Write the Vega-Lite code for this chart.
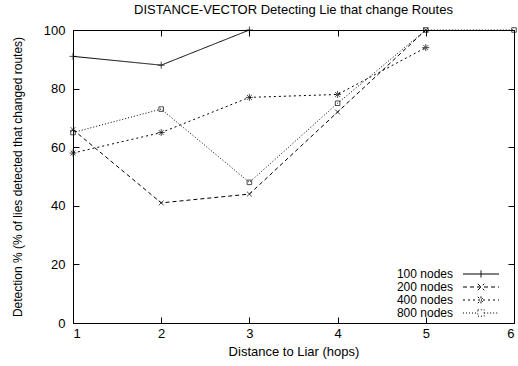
{
  "$schema": "https://vega.github.io/schema/vega-lite/v6.json",
  "width": 441,
  "height": 293,
  "autosize": "none",
  "padding": {"left": 73, "top": 30, "right": 4, "bottom": 43},
  "background": "white",
  "title": {"text": "DISTANCE-VECTOR Detecting Lie that change Routes", "font": "Liberation Sans", "fontSize": 13, "fontWeight": "normal", "color": "black", "offset": 7, "anchor": "middle"},
  "config": {
    "view": {"stroke": "black", "strokeWidth": 1},
    "font": "Liberation Sans",
    "axis": {"domain": false, "grid": false, "tickColor": "black", "tickSize": -6, "labelFont": "Liberation Sans", "labelFontSize": 13, "labelColor": "black", "titleFont": "Liberation Sans", "titleFontSize": 13, "titleFontWeight": "normal", "titleColor": "black"},
    "axisX": {"labelPadding": 10},
    "axisY": {"labelPadding": 14}
  },
  "data": {"values": [
    {"series": "100 nodes", "hops": 1, "pct": 91},
    {"series": "100 nodes", "hops": 2, "pct": 88},
    {"series": "100 nodes", "hops": 3, "pct": 100},
    {"series": "200 nodes", "hops": 1, "pct": 66},
    {"series": "200 nodes", "hops": 2, "pct": 41},
    {"series": "200 nodes", "hops": 3, "pct": 44},
    {"series": "200 nodes", "hops": 4, "pct": 72},
    {"series": "200 nodes", "hops": 5, "pct": 100},
    {"series": "400 nodes", "hops": 1, "pct": 58},
    {"series": "400 nodes", "hops": 2, "pct": 65},
    {"series": "400 nodes", "hops": 3, "pct": 77},
    {"series": "400 nodes", "hops": 4, "pct": 78},
    {"series": "400 nodes", "hops": 5, "pct": 94},
    {"series": "800 nodes", "hops": 1, "pct": 65},
    {"series": "800 nodes", "hops": 2, "pct": 73},
    {"series": "800 nodes", "hops": 3, "pct": 48},
    {"series": "800 nodes", "hops": 4, "pct": 75},
    {"series": "800 nodes", "hops": 5, "pct": 100},
    {"series": "800 nodes", "hops": 6, "pct": 100}
  ]},
  "resolve": {"axis": {"x": "independent", "y": "independent"}},
  "layer": [
    {
      "mark": {"type": "line", "color": "black", "strokeWidth": 1, "clip": false},
      "encoding": {
        "x": {"field": "hops", "type": "quantitative", "scale": {"domain": [1, 6], "nice": false, "zero": false}, "axis": {"title": "Distance to Liar (hops)", "values": [1,2,3,4,5,6], "format": "d", "titlePadding": 5}},
        "y": {"field": "pct", "type": "quantitative", "scale": {"domain": [0, 100], "nice": false}, "axis": {"title": "Detection % (% of lies detected that changed routes)", "titleFontSize": 12, "values": [0,20,40,60,80,100], "titlePadding": 19}},
        "strokeDash": {"field": "series", "type": "nominal", "scale": {"domain": ["100 nodes","200 nodes","400 nodes","800 nodes"], "range": [[1,0],[4,3],[2,3],[1,2]]},
          "legend": {"title": null, "orient": "none", "legendX": 402, "legendY": 238, "labelAlign": "right", "labelOffset": -34, "labelFontSize": 12, "labelFont": "Liberation Sans", "labelColor": "black", "symbolSize": 64, "symbolStrokeColor": "black", "symbolStrokeWidth": 1, "rowPadding": 1,
            "encode": {"symbols": {"update": {"shape": {"signal": "datum.value == '100 nodes' ? 'M-4.5,0H4.5M0,-0.9V0.9' : datum.value == '200 nodes' ? 'M-4.5,0H4.5M-0.8,-0.8L0.8,0.8M-0.8,0.8L0.8,-0.8' : datum.value == '400 nodes' ? 'M-4.5,0H4.5M0,-0.9V0.9M-0.8,-0.8L0.8,0.8M-0.8,0.8L0.8,-0.8' : 'M-4.5,0H-0.8M0.8,0H4.5M-0.8,-0.8H0.8V0.8H-0.8Z'"}, "fill": {"value": "transparent"}, "stroke": {"value": "black"}}}}}}
      }
    },
    {
      "transform": [{"filter": "datum.series == '100 nodes'"}],
      "mark": {"type": "point", "shape": "M-1,0H1M0,-1V1", "color": "black", "strokeWidth": 1, "filled": false, "size": 49, "clip": false},
      "encoding": {
        "x": {"field": "hops", "type": "quantitative", "axis": {"orient": "top", "labels": false, "title": null, "values": [1,2,3,4,5,6]}},
        "y": {"field": "pct", "type": "quantitative", "axis": {"orient": "right", "labels": false, "title": null, "values": [0,20,40,60,80,100]}}
      }
    },
    {
      "transform": [{"filter": "datum.series == '200 nodes'"}],
      "mark": {"type": "point", "shape": "M-0.7,-0.7L0.7,0.7M-0.7,0.7L0.7,-0.7", "color": "black", "strokeWidth": 1, "filled": false, "size": 49, "clip": false},
      "encoding": {
        "x": {"field": "hops", "type": "quantitative", "axis": null},
        "y": {"field": "pct", "type": "quantitative", "axis": null}
      }
    },
    {
      "transform": [{"filter": "datum.series == '400 nodes'"}],
      "mark": {"type": "point", "shape": "M-1,0H1M0,-1V1M-0.7,-0.7L0.7,0.7M-0.7,0.7L0.7,-0.7", "color": "black", "strokeWidth": 1, "filled": false, "size": 49, "clip": false},
      "encoding": {
        "x": {"field": "hops", "type": "quantitative", "axis": null},
        "y": {"field": "pct", "type": "quantitative", "axis": null}
      }
    },
    {
      "transform": [{"filter": "datum.series == '800 nodes'"}],
      "mark": {"type": "point", "shape": "M-0.65,-0.65H0.65V0.65H-0.65Z", "color": "black", "strokeWidth": 1, "filled": false, "size": 49, "clip": false},
      "encoding": {
        "x": {"field": "hops", "type": "quantitative", "axis": null},
        "y": {"field": "pct", "type": "quantitative", "axis": null}
      }
    }
  ]
}
